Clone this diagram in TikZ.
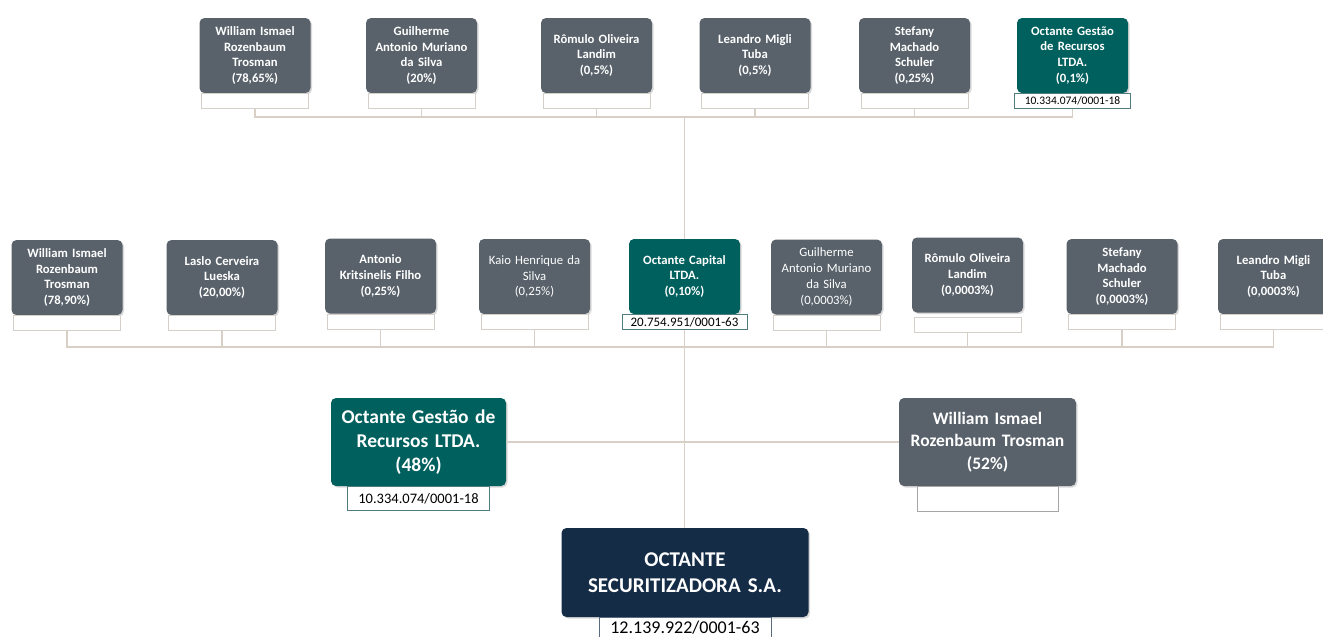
\documentclass[tikz,border=0pt]{standalone}
\usepackage{fontspec}
\setmainfont{Carlito}
\usetikzlibrary{shadows}
\definecolor{cinza}{HTML}{59626B}
\definecolor{verde}{HTML}{00605E}
\definecolor{marinho}{HTML}{152C46}
\definecolor{linha}{HTML}{D8D0C6}
\definecolor{borda}{HTML}{D5D0CA}
\definecolor{bordaverde}{HTML}{4F7C7F}
\tikzset{
  pessoa/.style={fill=cinza, rounded corners=5pt, text=white, align=center, text width=107pt,
    minimum width=111pt, minimum height=75pt, inner sep=1pt, font=\bfseries\fontsize{12.7}{15.8}\selectfont,
    drop shadow={opacity=0.3, shadow xshift=1.5pt, shadow yshift=-1.5pt}},
  empresa/.style={pessoa, fill=verde},
  leve/.style={font=\fontsize{12.7}{15.8}\selectfont},
  cnpj/.style={draw=borda, line width=0.8pt, fill=white, anchor=north, minimum width=107pt,
    minimum height=15pt, inner sep=0pt, font=\fontsize{11.5}{11.5}\selectfont},
  ligacao/.style={draw=linha, line width=1.5pt}
}

\begin{document}
\begin{tikzpicture}[x=1pt,y=-1pt]
\useasboundingbox (0,0) rectangle (1323,637);
\coordinate (barraS) at (0,117);
\coordinate (barraM) at (0,347);

\node[pessoa] (s1) at (255,55.5) {William Ismael\\Rozenbaum\\Trosman\\(78,65\%)};
\node[pessoa] (s2) at (421.5,55.5) {Guilherme\\Antonio Muriano\\da Silva\\(20\%)};
\node[pessoa] (s3) at (596.5,55.5) {Rômulo Oliveira\\Landim\\(0,5\%)};
\node[pessoa] (s4) at (755,55.5) {Leandro Migli\\Tuba\\(0,5\%)};
\node[pessoa] (s5) at (914.5,55.5) {Stefany\\Machado\\Schuler\\(0,25\%)};
\node[empresa] (s6) at (1072.5,55.5) {Octante Gestão\\de Recursos\\LTDA.\\(0,1\%)};
\node[cnpj] (s1c) at (s1.south) {};
\node[cnpj] (s2c) at (s2.south) {};
\node[cnpj] (s3c) at (s3.south) {};
\node[cnpj] (s4c) at (s4.south) {};
\node[cnpj] (s5c) at (s5.south) {};
\node[cnpj, draw=bordaverde, minimum width=116pt] (s6c) at (s6.south) {10.334.074/0001-18};

\node[pessoa] (m1) at (67,277.5) {William Ismael\\Rozenbaum\\Trosman\\(78,90\%)};
\node[pessoa] (m2) at (222,277.5) {Laslo Cerveira\\Lueska\\(20,00\%)};
\node[pessoa] (m3) at (380.5,276) {Antonio\\Kritsinelis Filho\\(0,25\%)};
\node[pessoa, leve] (m4) at (534.5,276.5) {Kaio Henrique da\\Silva\\(0,25\%)};
\node[empresa] (m5) at (684.5,276.5) {Octante Capital\\LTDA.\\(0,10\%)};
\node[pessoa, leve] (m6) at (826.5,277) {Guilherme\\Antonio Muriano\\da Silva\\(0,0003\%)};
\node[pessoa] (m7) at (967.5,275) {Rômulo Oliveira\\Landim\\(0,0003\%)\\[14pt]};
\node[pessoa] (m8) at (1122,276.5) {Stefany\\Machado\\Schuler\\(0,0003\%)};
\node[pessoa] (m9) at (1273.5,276.5) {Leandro Migli\\Tuba\\(0,0003\%)};
\node[cnpj] (m1c) at (m1.south) {};
\node[cnpj] (m2c) at (m2.south) {};
\node[cnpj] (m3c) at (m3.south) {};
\node[cnpj] (m4c) at (m4.south) {};
\node[cnpj, draw=bordaverde, minimum width=125pt, font=\fontsize{13}{13}\selectfont] (m5c) at (m5.south) {20.754.951/0001-63};
\node[cnpj] (m6c) at (m6.south) {};
\node[cnpj] (m7c) at ([yshift=-4pt]m7.south) {};
\node[cnpj] (m8c) at (m8.south) {};
\node[cnpj] (m9c) at (m9.south) {};

\node[empresa, minimum width=175pt, minimum height=88pt, text width=170pt,
  font=\bfseries\fontsize{19.5}{24}\selectfont] (g) at (418.5,442) {Octante Gestão de\\Recursos LTDA.\\(48\%)};
\node[pessoa, minimum width=177pt, minimum height=88pt, text width=170pt,
  font=\bfseries\fontsize{17.5}{22.5}\selectfont] (w) at (987.5,442) {William Ismael\\Rozenbaum Trosman\\(52\%)};
\node[pessoa, fill=marinho, minimum width=247pt, minimum height=89pt, text width=240pt,
  font=\bfseries\fontsize{21}{26}\selectfont] (o) at (685,572.5) {OCTANTE\\SECURITIZADORA S.A.};
\node[cnpj, draw=bordaverde, minimum width=142pt, minimum height=24pt, font=\fontsize{14.5}{14.5}\selectfont] (gc) at (g.south) {10.334.074/0001-18};
\node[cnpj, draw=gray!70, minimum width=141pt, minimum height=25pt] (wc) at (w.south) {};
\node[cnpj, draw=marinho!70, minimum width=172pt, minimum height=20pt, font=\fontsize{18}{18}\selectfont] (oc) at (o.south) {12.139.922/0001-63};

\draw[ligacao] (s1c.south) -- (s1c.south |- barraS) -- (s6c.south |- barraS) -- (s6c.south);
\draw[ligacao] (s2c.south) -- (s2c.south |- barraS);
\draw[ligacao] (s3c.south) -- (s3c.south |- barraS);
\draw[ligacao] (s4c.south) -- (s4c.south |- barraS);
\draw[ligacao] (s5c.south) -- (s5c.south |- barraS);
\draw[ligacao] (m5.north) -- (m5.north |- barraS);
\draw[ligacao] (m1c.south) -- (m1c.south |- barraM) -- (m9c.south |- barraM) -- (m9c.south);
\draw[ligacao] (m2c.south) -- (m2c.south |- barraM);
\draw[ligacao] (m3c.south) -- (m3c.south |- barraM);
\draw[ligacao] (m4c.south) -- (m4c.south |- barraM);
\draw[ligacao] (m6c.south) -- (m6c.south |- barraM);
\draw[ligacao] (m7c.south) -- (m7c.south |- barraM);
\draw[ligacao] (m8c.south) -- (m8c.south |- barraM);
\draw[ligacao] (m5c.south) -- (m5c.south |- o.north);
\draw[ligacao] (g.east) -- (w.west);
\end{tikzpicture}
\end{document}
